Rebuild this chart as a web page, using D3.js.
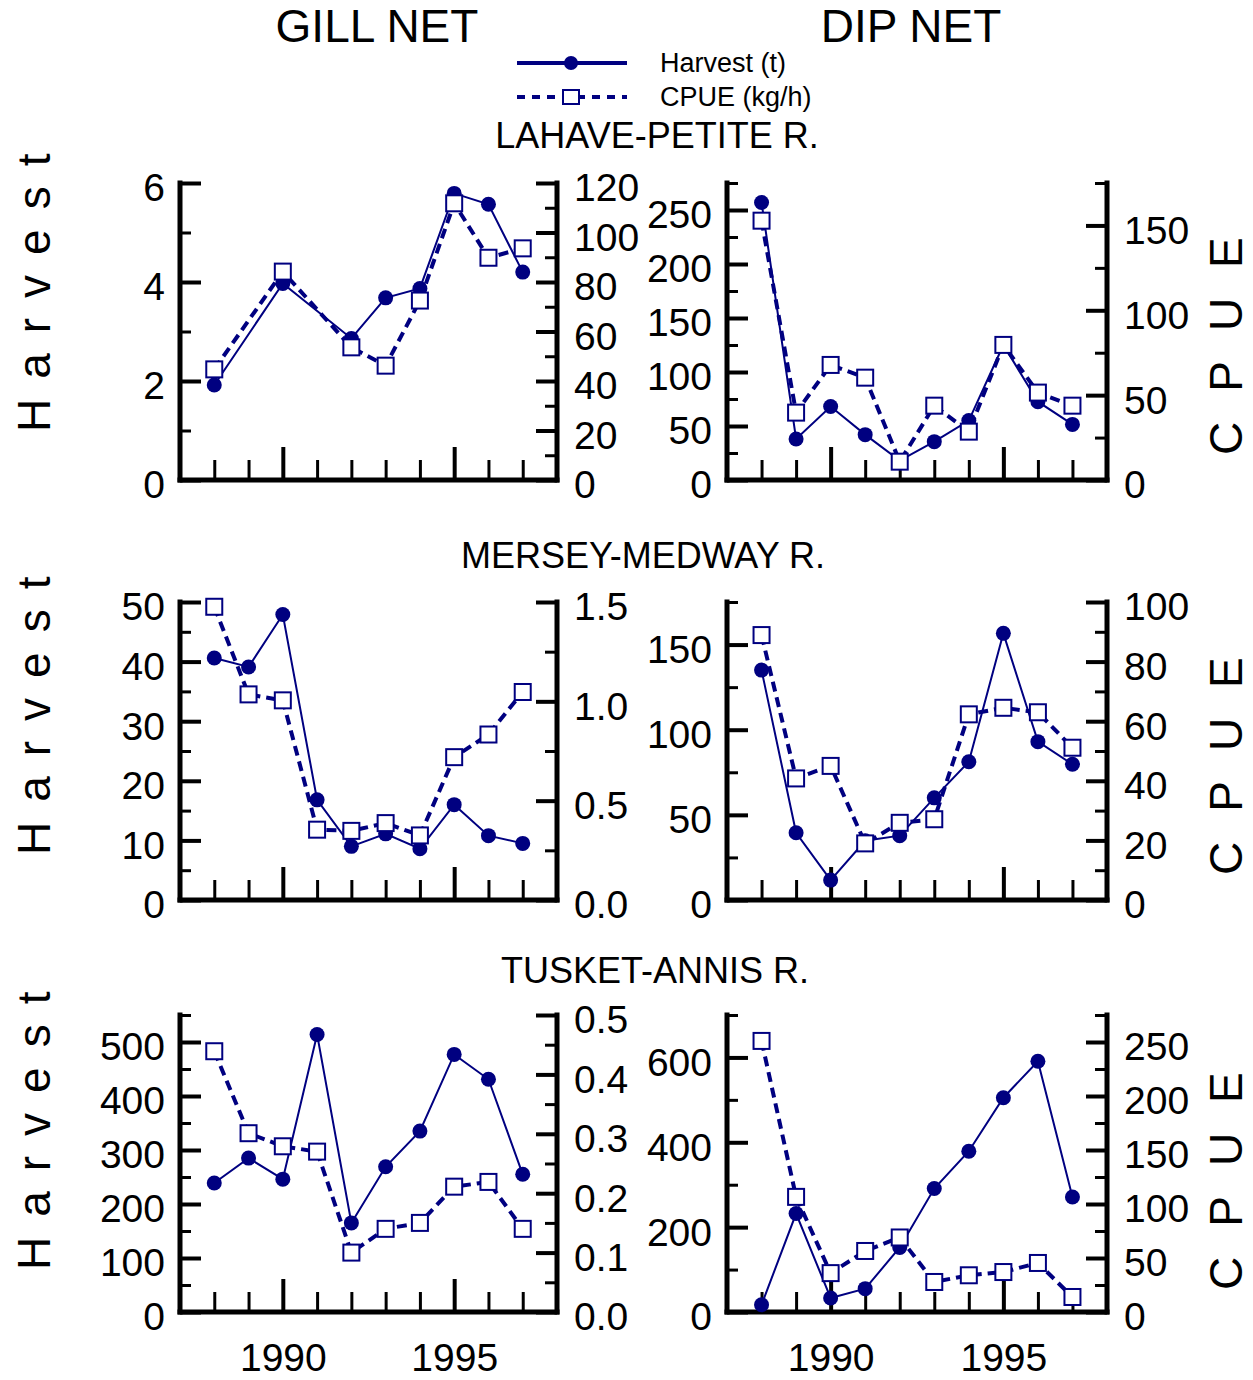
<!DOCTYPE html>
<html><head><meta charset="utf-8">
<script src="https://cdn.jsdelivr.net/npm/d3@7"></script>
<style>
body{margin:0;background:#fff}
svg{display:block}
text{font-family:"Liberation Sans",Arial,Helvetica,sans-serif;fill:#000}
</style>
</head><body>
<svg id="c" width="1253" height="1380"></svg>
<script>
// ---------- data ----------
const years = [1988, 1989, 1990, 1991, 1992, 1993, 1994, 1995, 1996, 1997];
const xMajorYears = [1990, 1995];
const gearLabels = ["GILL NET", "DIP NET"];
const riverLabels = ["LAHAVE-PETITE R.", "MERSEY-MEDWAY R.", "TUSKET-ANNIS R."];
const seriesLabels = ["Harvest (t)", "CPUE (kg/h)"];
const leftTitle = "Harvest";
const rightTitle = "CPUE";

const lahaveGillHarvest = [1.92, null, 3.97, null, 2.86, 3.68, 3.87, 5.79, 5.57, 4.20];
const lahaveGillCPUE    = [44.7, null, 84.2, null, 53.6, 46.2, 72.5, 111.8, 89.8, 93.6];
const lahaveDipHarvest  = [257, 38, 68, 42, 18, 35.5, 55, 125, 72.5, 51.5];
const lahaveDipCPUE     = [152.8, 39.7, 67.8, 60.3, 10.8, 43.8, 28.5, 79.6, 51.5, 43.8];
const merseyGillHarvest = [40.6, 39.1, 47.9, 16.8, 9.0, 11.1, 8.6, 16.0, 10.8, 9.5];
const merseyGillCPUE    = [1.476, 1.035, 1.005, 0.354, 0.348, 0.387, 0.325, 0.719, 0.833, 1.047];
const merseyDipHarvest  = [135, 39.5, 11.7, 34.8, 37.8, 60, 81.2, 156.6, 93, 79.7];
const merseyDipCPUE     = [88.9, 40.8, 45, 19, 25.9, 27.1, 62.3, 64.5, 63, 51.1];
const tusketGillHarvest = [239, 285, 246, 514, 165, 269, 335, 477, 431, 255];
const tusketGillCPUE    = [0.439, 0.301, 0.279, 0.270, 0.100, 0.140, 0.150, 0.211, 0.219, 0.140];
const tusketDipHarvest  = [17, 232, 33, 55, 152, 291, 379, 505, 591, 271];
const tusketDipCPUE     = [251, 106.6, 36, 56.5, 69, 27.8, 34, 37, 45.4, 13.9];

// axis tick values (major labelled, minor unlabelled)
const lahaveGillLeftTicks  = [0, 2, 4, 6],            lahaveGillLeftMinor  = [1, 3, 5];
const lahaveGillRightTicks = [0, 20, 40, 60, 80, 100, 120], lahaveGillRightMinor = [10, 30, 50, 70, 90, 110];
const lahaveDipLeftTicks   = [0, 50, 100, 150, 200, 250], lahaveDipLeftMinor   = [25, 75, 125, 175, 225, 275];
const lahaveDipRightTicks  = [0, 50, 100, 150],       lahaveDipRightMinor  = [25, 75, 125, 175];
const merseyGillLeftTicks  = [0, 10, 20, 30, 40, 50], merseyGillLeftMinor  = [5, 15, 25, 35, 45];
const merseyGillRightTicks = [0, 0.5, 1.0, 1.5],      merseyGillRightMinor = [0.25, 0.75, 1.25];
const merseyDipLeftTicks   = [0, 50, 100, 150],       merseyDipLeftMinor   = [25, 75, 125, 175];
const merseyDipRightTicks  = [0, 20, 40, 60, 80, 100], merseyDipRightMinor = [10, 30, 50, 70, 90];
const tusketGillLeftTicks  = [0, 100, 200, 300, 400, 500], tusketGillLeftMinor = [50, 150, 250, 350, 450, 550];
const tusketGillRightTicks = [0, 0.1, 0.2, 0.3, 0.4, 0.5], tusketGillRightMinor = [0.05, 0.15, 0.25, 0.35, 0.45];
const tusketDipLeftTicks   = [0, 200, 400, 600],      tusketDipLeftMinor   = [100, 300, 500, 700];
const tusketDipRightTicks  = [0, 50, 100, 150, 200, 250], tusketDipRightMinor = [25, 75, 125, 175, 225, 275];

// ---------- layout ----------
const NAVY = "#000080";
const colX = [{l: 180, r: 557}, {l: 727, r: 1107}];
const rowY = [{t: 183, b: 480}, {t: 602, b: 900}, {t: 1015, b: 1312}];
const rowTitleY = [135, 555, 970];
const rowTitleX = [657, 643, 655];
const harvestTitleStart = [432, 855, 1270];
const cpueTitleStart = [455, 875, 1290];

const panels = [
  {row:0,col:0,h:lahaveGillHarvest,c:lahaveGillCPUE,ld:[0,6],rd:[0,120],lt:lahaveGillLeftTicks,lm:lahaveGillLeftMinor,rt:lahaveGillRightTicks,rm:lahaveGillRightMinor,rf:d3.format("d")},
  {row:0,col:1,h:lahaveDipHarvest,c:lahaveDipCPUE,ld:[0,275],rd:[0,175],lt:lahaveDipLeftTicks,lm:lahaveDipLeftMinor,rt:lahaveDipRightTicks,rm:lahaveDipRightMinor,rf:d3.format("d")},
  {row:1,col:0,h:merseyGillHarvest,c:merseyGillCPUE,ld:[0,50],rd:[0,1.5],lt:merseyGillLeftTicks,lm:merseyGillLeftMinor,rt:merseyGillRightTicks,rm:merseyGillRightMinor,rf:d3.format(".1f")},
  {row:1,col:1,h:merseyDipHarvest,c:merseyDipCPUE,ld:[0,175],rd:[0,100],lt:merseyDipLeftTicks,lm:merseyDipLeftMinor,rt:merseyDipRightTicks,rm:merseyDipRightMinor,rf:d3.format("d")},
  {row:2,col:0,h:tusketGillHarvest,c:tusketGillCPUE,ld:[0,550],rd:[0,0.5],lt:tusketGillLeftTicks,lm:tusketGillLeftMinor,rt:tusketGillRightTicks,rm:tusketGillRightMinor,rf:d3.format(".1f")},
  {row:2,col:1,h:tusketDipHarvest,c:tusketDipCPUE,ld:[0,700],rd:[0,275],lt:tusketDipLeftTicks,lm:tusketDipLeftMinor,rt:tusketDipRightTicks,rm:tusketDipRightMinor,rf:d3.format("d")}
];

const svg = d3.select("#c");
const TICKFONT = 39;

// headers
gearLabels.forEach((g, i) => {
  svg.append("text").attr("x", [377, 911][i]).attr("y", 26)
    .attr("text-anchor", "middle").attr("dominant-baseline", "central")
    .style("font-size", "46px").text(g);
});
riverLabels.forEach((r, i) => {
  svg.append("text").attr("x", rowTitleX[i]).attr("y", rowTitleY[i])
    .attr("text-anchor", "middle").attr("dominant-baseline", "central")
    .style("font-size", "36px").text(r);
});

// legend
const lg = svg.append("g");
lg.append("line").attr("x1", 517).attr("x2", 627).attr("y1", 63).attr("y2", 63)
  .attr("stroke", NAVY).attr("stroke-width", 4);
lg.append("circle").attr("cx", 571).attr("cy", 63).attr("r", 7).attr("fill", NAVY);
lg.append("line").attr("x1", 517).attr("x2", 627).attr("y1", 97).attr("y2", 97)
  .attr("stroke", NAVY).attr("stroke-width", 4).attr("stroke-dasharray", "8,7");
lg.append("rect").attr("x", 563).attr("y", 90).attr("width", 16).attr("height", 14)
  .attr("fill", "#fff").attr("stroke", NAVY).attr("stroke-width", 2);
seriesLabels.forEach((s, i) => {
  lg.append("text").attr("x", 660).attr("y", [63, 97][i]).attr("dominant-baseline", "central")
    .style("font-size", "27px").text(s);
});

// axis titles
rowY.forEach((ry, i) => {
  svg.append("text").attr("transform", `translate(50,${harvestTitleStart[i]}) rotate(-90)`)
    .style("font-size", "46px").style("letter-spacing", "20px").text(leftTitle);
  svg.append("text").attr("transform", `translate(1242,${cpueTitleStart[i]}) rotate(-90)`)
    .style("font-size", "46px").style("letter-spacing", "30px").text(rightTitle);
});

function styleAxis(g, w) {
  g.select(".domain").remove();
  g.selectAll(".tick line").attr("stroke", "#000").attr("stroke-width", w);
  g.selectAll(".tick text").style("font-size", TICKFONT + "px").attr("fill", "#000")
    .style("font-family", '"Liberation Sans",Arial,sans-serif');
}

panels.forEach(p => {
  const cx = colX[p.col], ry = rowY[p.row];
  const x = d3.scaleLinear().domain([1987, 1998]).range([cx.l, cx.r]);
  const yl = d3.scaleLinear().domain(p.ld).range([ry.b, ry.t]);
  const yr = d3.scaleLinear().domain(p.rd).range([ry.b, ry.t]);
  const g = svg.append("g");

  // left axis
  const gl = g.append("g").attr("transform", `translate(${cx.l},0)`)
    .call(d3.axisLeft(yl).tickValues(p.lt).tickSize(-21).tickSizeOuter(0).tickPadding(15).tickFormat(d3.format("d")));
  styleAxis(gl, 4);
  gl.selectAll(".tick text").attr("dy", "0.46em");
  const glm = g.append("g").attr("transform", `translate(${cx.l},0)`)
    .call(d3.axisLeft(yl).tickValues(p.lm).tickSize(-11).tickSizeOuter(0).tickFormat(""));
  styleAxis(glm, 3);

  // right axis
  const gr = g.append("g").attr("transform", `translate(${cx.r},0)`)
    .call(d3.axisRight(yr).tickValues(p.rt).tickSize(-21).tickSizeOuter(0).tickPadding(17).tickFormat(p.rf));
  styleAxis(gr, 4);
  gr.selectAll(".tick text").attr("dy", "0.46em");
  const grm = g.append("g").attr("transform", `translate(${cx.r},0)`)
    .call(d3.axisRight(yr).tickValues(p.rm).tickSize(-12).tickSizeOuter(0).tickFormat(""));
  styleAxis(grm, 3);

  // bottom axis
  const minorYears = years.filter(y => !xMajorYears.includes(y));
  const gb = g.append("g").attr("transform", `translate(0,${ry.b})`)
    .call(d3.axisBottom(x).tickValues(xMajorYears).tickSize(-33).tickSizeOuter(0).tickPadding(31)
      .tickFormat(p.row === 2 ? d3.format("d") : ""));
  styleAxis(gb, 4);
  const gbm = g.append("g").attr("transform", `translate(0,${ry.b})`)
    .call(d3.axisBottom(x).tickValues(minorYears).tickSize(-20).tickSizeOuter(0).tickFormat(""));
  styleAxis(gbm, 3);

  // axis lines
  const ax = g.append("g").attr("stroke", "#000").attr("stroke-width", 5).attr("stroke-linecap", "square");
  ax.append("line").attr("x1", cx.l).attr("x2", cx.l).attr("y1", ry.t).attr("y2", ry.b);
  ax.append("line").attr("x1", cx.r).attr("x2", cx.r).attr("y1", ry.t).attr("y2", ry.b);
  ax.append("line").attr("x1", cx.l).attr("x2", cx.r).attr("y1", ry.b).attr("y2", ry.b);

  const hd = years.map((yv, i) => ({year: yv, v: p.h[i]})).filter(d => d.v != null);
  const cd = years.map((yv, i) => ({year: yv, v: p.c[i]})).filter(d => d.v != null);

  // harvest
  g.append("path").datum(hd)
    .attr("d", d3.line().x(d => x(d.year)).y(d => yl(d.v)))
    .attr("fill", "none").attr("stroke", NAVY).attr("stroke-width", 2);
  g.selectAll(".hpt").data(hd).enter().append("circle")
    .attr("cx", d => x(d.year)).attr("cy", d => yl(d.v)).attr("r", 7.5).attr("fill", NAVY);

  // cpue
  g.append("path").datum(cd)
    .attr("d", d3.line().x(d => x(d.year)).y(d => yr(d.v)))
    .attr("fill", "none").attr("stroke", NAVY).attr("stroke-width", 4).attr("stroke-dasharray", "10,6");
  g.selectAll(".cpt").data(cd).enter().append("rect")
    .attr("x", d => x(d.year) - 8).attr("y", d => yr(d.v) - 8)
    .attr("width", 16).attr("height", 16)
    .attr("fill", "#fff").attr("stroke", NAVY).attr("stroke-width", 2);
});
</script>
</body></html>
